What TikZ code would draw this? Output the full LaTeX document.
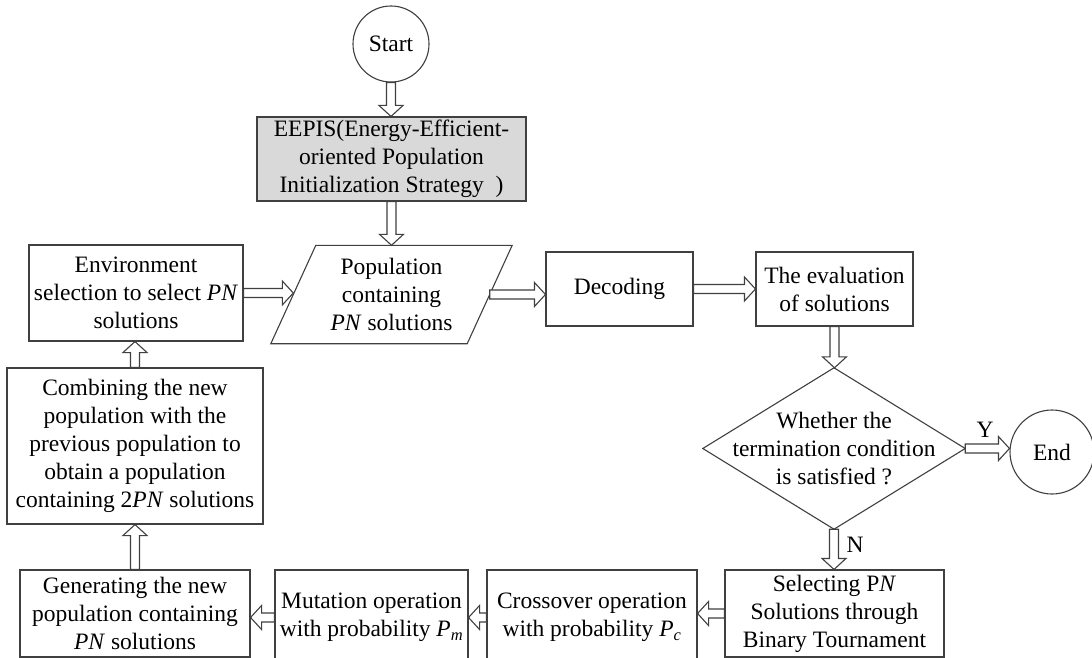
\documentclass[tikz,border=0pt]{standalone}
\usepackage{fontspec}
\setmainfont{Liberation Serif}
\usetikzlibrary{calc}
\definecolor{lc}{HTML}{404040}
\definecolor{gfill}{HTML}{D9D9D9}
\newcommand\fsz{\fontsize{23.5pt}{28pt}\selectfont}
\newcommand\arrD[2]{\draw[blk] let \p1=(#1), \p2=(#2) in (\x1-4.5pt,\y1) -- (\x1-4.5pt,\y2+11pt) -- (\x1-12pt,\y2+11pt) -- (\x1,\y2) -- (\x1+12pt,\y2+11pt) -- (\x1+4.5pt,\y2+11pt) -- (\x1+4.5pt,\y1) -- cycle;}
\newcommand\arrU[2]{\draw[blk] let \p1=(#1), \p2=(#2) in (\x1-4.5pt,\y1) -- (\x1-4.5pt,\y2-11pt) -- (\x1-12pt,\y2-11pt) -- (\x1,\y2) -- (\x1+12pt,\y2-11pt) -- (\x1+4.5pt,\y2-11pt) -- (\x1+4.5pt,\y1) -- cycle;}
\newcommand\arrR[2]{\draw[blk] let \p1=(#1), \p2=(#2) in (\x1,\y1+4.5pt) -- (\x2-11pt,\y1+4.5pt) -- (\x2-11pt,\y1+12pt) -- (\x2,\y1) -- (\x2-11pt,\y1-12pt) -- (\x2-11pt,\y1-4.5pt) -- (\x1,\y1-4.5pt) -- cycle;}
\newcommand\arrL[2]{\draw[blk] let \p1=(#1), \p2=(#2) in (\x1,\y1+4.5pt) -- (\x2+11pt,\y1+4.5pt) -- (\x2+11pt,\y1+12pt) -- (\x2,\y1) -- (\x2+11pt,\y1-12pt) -- (\x2+11pt,\y1-4.5pt) -- (\x1,\y1-4.5pt) -- cycle;}
\begin{document}
\begin{tikzpicture}[x=1pt,y=-1pt,
  every node/.style={font=\fsz},
  box/.style={draw=lc, line width=1.1pt, align=center, inner sep=0pt},
  plain/.style={align=center, inner sep=0pt},
  term/.style={draw=lc, line width=1.1pt, circle, inner sep=0pt},
  blk/.style={draw=lc, line width=1.1pt, fill=white, line join=miter}]
\clip (0,0) rectangle (1092,658);
\fill[white] (0,0) rectangle (1092,658);
% nodes
\node[term, minimum size=76] (start) at (391,44) {Start};
\node[box, fill=gfill, minimum width=269, minimum height=84] (eepis) at (391.5,159) {EEPIS(Energy-Efficient-\\oriented Population\\Initialization Strategy~~)};
\node[plain, minimum width=196, minimum height=98] (pop) at (391.5,294.5) {Population\\containing\\\textit{PN} solutions};
\draw[lc, line width=1.1pt] ($(pop.south west)+(-22.5,0)$) -- ($(pop.north west)+(22.5,0)$) -- ($(pop.north east)+(22.5,0)$) -- ($(pop.south east)+(-22.5,0)$) -- cycle;
\node[box, minimum width=214, minimum height=96] (env) at (136,293) {Environment\\selection to select \textit{PN}\\solutions};
\node[box, minimum width=147, minimum height=74] (dec) at (619.5,289) {Decoding};
\node[box, minimum width=157, minimum height=74] (eval) at (834.5,289) {The evaluation\\of solutions};
\node[plain, minimum width=262, minimum height=161] (dia) at (834,448.5) {Whether the\\termination condition\\is satisfied ?};
\draw[lc, line width=1.1pt] (dia.north) -- (dia.east) -- (dia.south) -- (dia.west) -- cycle;
\node[term, minimum size=84] (end) at (1052,452) {End};
\node[box, minimum width=219, minimum height=87] (sel) at (834.5,613.5) {Selecting P\textit{N}\\Solutions through\\Binary Tournament};
\node[box, minimum width=210, minimum height=95] (cross) at (592,617.5) {Crossover operation\\with probability \textit{P}\textsubscript{\textit{c}}};
\node[box, minimum width=193, minimum height=95] (mut) at (371.5,617.5) {Mutation operation\\with probability \textit{P}\textsubscript{\textit{m}}};
\node[box, minimum width=230, minimum height=87] (gen) at (135,613.5) {Generating the new\\population containing\\\textit{PN} solutions};
\node[box, minimum width=256, minimum height=156] (comb) at (135,446) {Combining the new\\population with the\\previous population to\\obtain a population\\containing 2\textit{PN} solutions};
% connectors
\arrD{start.south}{eepis.north}
\arrD{eepis.south}{pop.north}
\arrR{env.east}{pop.west}
\arrR{pop.east}{dec.west}
\arrR{dec.east}{eval.west}
\arrD{eval.south}{dia.north}
\arrR{dia.east}{end.west}
\arrD{dia.south}{sel.north}
\arrL{sel.west}{cross.east}
\arrL{cross.west}{mut.east}
\arrL{mut.west}{gen.east}
\arrU{gen.north}{comb.south}
\arrU{comb.north}{env.south}
% labels
\node[plain] (ylab) at (985,430) {Y};
\node[plain] (nlab) at (855,545) {N};
\end{tikzpicture}
\end{document}
